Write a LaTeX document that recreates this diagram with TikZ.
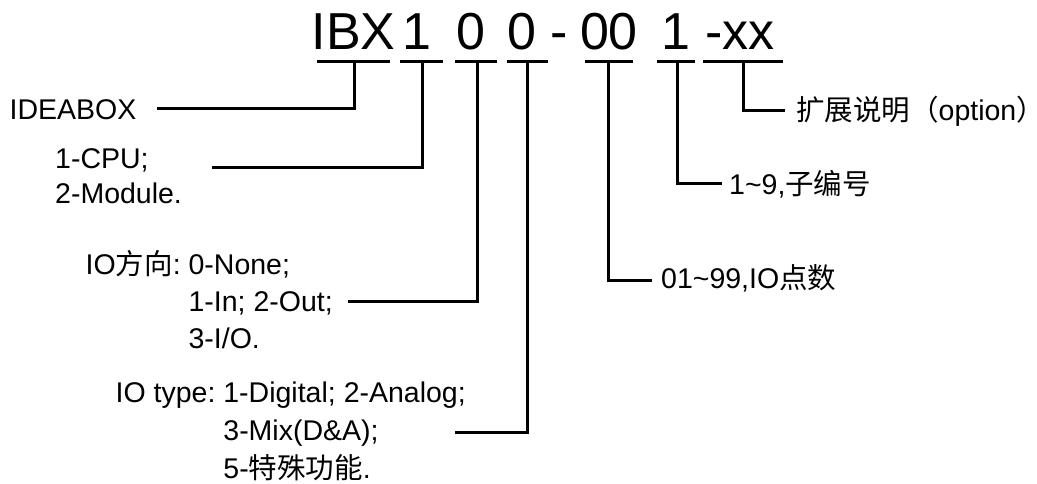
\documentclass[tikz,border=0pt]{standalone}
\usepackage{fontspec}
\setmainfont{Liberation Sans}
\newfontfamily\cjk{Noto Sans CJK SC}
\newcommand{\colsp}{\mbox{\ }}
\begin{document}
\begin{tikzpicture}[x=1pt,y=-1pt,
  lbl/.style={anchor=base west, inner sep=0pt, font=\fontsize{28.5}{37}\selectfont},
  hdr/.style={anchor=base, inner sep=0pt, font=\fontsize{52}{60}\selectfont},
  conn/.style={draw, line width=3pt}]
\useasboundingbox (0,0) rectangle (1037,484);
% header code
\node[hdr] (ibx)  at (353.5,50) {IBX};
\node[hdr] (d1)   at (417,50)   {1};
\node[hdr] (d2)   at (471,50)   {0};
\node[hdr] (d3)   at (521.5,50) {0};
\node[hdr] (dash) at (559,50)   {-};
\node[hdr] (d4)   at (609,50)   {00};
\node[hdr] (d5)   at (676,50)   {1};
\node[hdr] (d6)   at (740,50)   {-xx};
% underline ends and stems
\coordinate (a0) at (317,62); \coordinate (b0) at (390,62); \coordinate (m0) at (354,62);
\coordinate (a1) at (400,62); \coordinate (b1) at (443,62); \coordinate (m1) at (422,62);
\coordinate (a2) at (455,62); \coordinate (b2) at (497,62); \coordinate (m2) at (477,62);
\coordinate (a3) at (507,62); \coordinate (b3) at (548,62); \coordinate (m3) at (527,62);
\coordinate (a4) at (585,62); \coordinate (b4) at (633,62); \coordinate (m4) at (608,62);
\coordinate (a5) at (657,62); \coordinate (b5) at (695,62); \coordinate (m5) at (677,62);
\coordinate (a6) at (703,62); \coordinate (b6) at (783,62); \coordinate (m6) at (743,62);
% connector free ends
\coordinate (e0) at (157,109);
\coordinate (e1) at (212,168);
\coordinate (e2) at (348,301);
\coordinate (e3) at (455,432);
\coordinate (e4) at (652,280);
\coordinate (e5) at (722,184);
\coordinate (e6) at (785,111);
% labels
\node[lbl] (ideabox) at (9.5,120) {IDEABOX};
\node[lbl, font=\fontsize{28.5}{35}\selectfont] (cpu) at (55,169)
  {\begin{tabular}[t]{@{}l@{}}1-CPU;\\2-Module.\end{tabular}};
\node[lbl] (iodir) at (85.5,274)
  {\begin{tabular}[t]{@{}l@{}l@{}}IO{\cjk 方向}:\colsp & 0-None;\\ & 1-In; 2-Out;\\ & 3-I/O.\end{tabular}};
\node[lbl, font=\fontsize{28.5}{38}\selectfont] (iotype) at (115.5,402)
  {\begin{tabular}[t]{@{}l@{}l@{}}IO type:\colsp & 1-Digital; 2-Analog;\\ & 3-Mix(D\&A);\\ & 5-{\cjk 特殊功能}.\end{tabular}};
\node[lbl] (ext) at (796,121) {{\cjk 扩展说明（}option{\cjk \rlap{）}}};
\node[lbl] (sub) at (729,195) {1\textasciitilde 9,{\cjk 子编号}};
\node[lbl] (pts) at (661,288) {01\textasciitilde 99,IO{\cjk 点数}};
% lines
\foreach \i in {0,...,6} { \draw[conn] (a\i) -- (b\i); }
\foreach \i in {0,...,6} { \draw[conn] (m\i) |- (e\i); }
\end{tikzpicture}
\end{document}
